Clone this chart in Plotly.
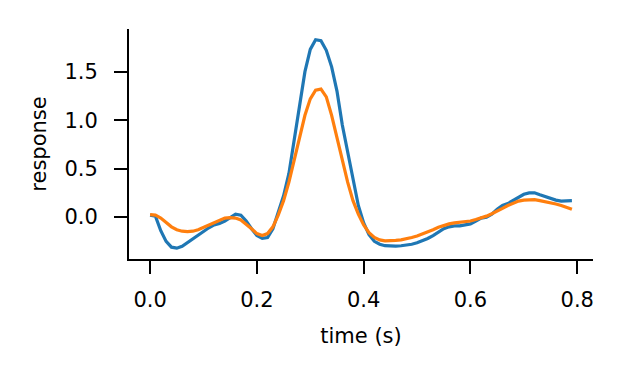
import plotly.graph_objects as go

time_s = [round(i * 0.01, 2) for i in range(80)]

response_a = [
    0.02, 0.01, -0.14, -0.25, -0.31, -0.32, -0.30, -0.26, -0.22, -0.19,
    -0.15, -0.11, -0.08, -0.065, -0.04, 0.0, 0.03, 0.02, -0.04, -0.12,
    -0.19, -0.22, -0.21, -0.12, 0.05, 0.22, 0.45, 0.80, 1.10, 1.50,
    1.73, 1.83, 1.82, 1.72, 1.55, 1.30, 0.95, 0.68, 0.38, 0.12,
    -0.06, -0.18, -0.25, -0.28, -0.295, -0.30, -0.30, -0.295, -0.29, -0.28,
    -0.265, -0.245, -0.22, -0.19, -0.155, -0.12, -0.10, -0.09, -0.09, -0.08,
    -0.07, -0.04, -0.01, 0.0, 0.03, 0.08, 0.12, 0.14, 0.17, 0.20,
    0.235, 0.25, 0.25, 0.23, 0.21, 0.19, 0.175, 0.165, 0.165, 0.17,
]

response_b = [
    0.025, 0.02, -0.01, -0.06, -0.10, -0.13, -0.145, -0.15, -0.145, -0.13,
    -0.105, -0.08, -0.055, -0.03, -0.01, -0.005, -0.01, -0.03, -0.07, -0.12,
    -0.17, -0.19, -0.17, -0.10, 0.02, 0.17, 0.36, 0.60, 0.84, 1.05,
    1.22, 1.31, 1.32, 1.24, 1.05, 0.82, 0.58, 0.36, 0.17, 0.03,
    -0.08, -0.16, -0.21, -0.235, -0.245, -0.245, -0.24, -0.235, -0.225, -0.21,
    -0.195, -0.175, -0.155, -0.13, -0.105, -0.085, -0.07, -0.06, -0.055, -0.05,
    -0.04, -0.025, -0.01, 0.01, 0.035, 0.06, 0.09, 0.12, 0.145, 0.165,
    0.175, 0.18, 0.18, 0.17, 0.16, 0.15, 0.135, 0.12, 0.10, 0.08,
]

x_ticks = [0.0, 0.2, 0.4, 0.6, 0.8]
y_ticks = [0.0, 0.5, 1.0, 1.5]

FONT = dict(family="DejaVu Sans", size=21, color="black")

fig = go.Figure()
fig.add_trace(go.Scatter(x=time_s, y=response_a, mode="lines",
                         line=dict(color="#1f77b4", width=3.2), showlegend=False))
fig.add_trace(go.Scatter(x=time_s, y=response_b, mode="lines",
                         line=dict(color="#ff7f0e", width=3.2), showlegend=False))

axis_common = dict(
    showgrid=False, zeroline=False, showline=True, linecolor="black", linewidth=2,
    ticks="outside", ticklen=13, tickwidth=2.2, tickcolor="black",
    tickfont=FONT, tickformat=".1f", mirror=False,
)

# page body has an 8px default margin; size and margins compensate for it
fig.update_layout(
    width=616, height=368,
    margin=dict(l=121, r=31, t=21, b=117),
    paper_bgcolor="white", plot_bgcolor="white",
    font=FONT,
    xaxis=dict(range=[-0.0395, 0.8295], tickvals=x_ticks, ticklabelstandoff=8,
               title=dict(text="time (s)", standoff=17, font=FONT),
               **axis_common),
    yaxis=dict(range=[-0.432, 1.94], tickvals=y_ticks, ticklabelstandoff=12,
               title=dict(text="response", standoff=12, font=FONT),
               **axis_common),
)

fig.write_html("out.html")
